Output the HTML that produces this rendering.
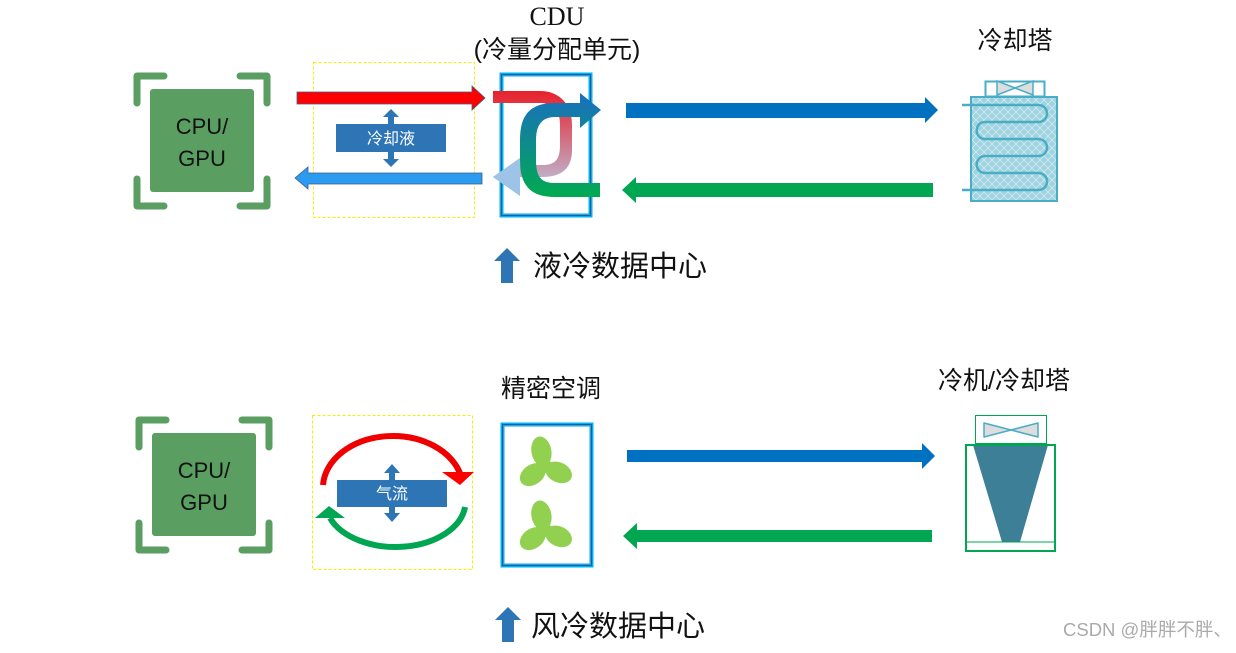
<!DOCTYPE html>
<html><head><meta charset="utf-8"><style>
body{margin:0;background:#fff;width:1236px;height:648px;overflow:hidden}
svg text{font-family:"Liberation Sans","Noto Sans CJK SC",sans-serif}
</style></head><body>
<svg width="1236" height="648" viewBox="0 0 1236 648" xmlns="http://www.w3.org/2000/svg">
<defs>
<pattern id="hatch" width="8" height="8" patternUnits="userSpaceOnUse">
<rect width="8" height="8" fill="#9fd3df"/><path d="M0 0L8 8M8 0L0 8" stroke="#d8eef3" stroke-width="0.7"/></pattern>
<linearGradient id="rg" x1="0" y1="0" x2="0" y2="1"><stop offset="0" stop-color="#e8202a"/><stop offset="1" stop-color="#b8cce8"/></linearGradient>
<linearGradient id="bg" x1="0" y1="0" x2="0" y2="1"><stop offset="0" stop-color="#1a6fc0"/><stop offset="1" stop-color="#00aa50"/></linearGradient>
<g id="cpu">
<rect x="16" y="16" width="104" height="103" rx="3" fill="#5a9e62"/>
<path d="M3 30V3H30M106 3H133V30M3 106V133H30M106 133H133V106" fill="none" stroke="#5a9e62" stroke-width="7" stroke-linecap="round" stroke-linejoin="round"/>
<text x="68" y="61" font-size="22" text-anchor="middle" fill="#111">CPU/</text>
<text x="68" y="93" font-size="22" text-anchor="middle" fill="#111">GPU</text>
</g>
<g id="fan" fill="#92d050">
<ellipse cx="-1" cy="-15" rx="10" ry="15" transform="rotate(-10)"/>
<ellipse cx="0" cy="-15" rx="10" ry="14" transform="rotate(115)"/>
<ellipse cx="0" cy="-15" rx="10" ry="14" transform="rotate(235)"/>
<circle r="7"/>
</g>
</defs>
<!-- top -->
<use href="#cpu" x="134" y="73"/>
<rect x="313.5" y="62.5" width="161" height="155" fill="none" stroke="#f3f000" stroke-dasharray="3,2"/>
<path d="M297 92H472V86L485 98L472 110V104H297Z" fill="#ff0000" stroke="#3a5f8a" stroke-width="0.8"/>
<path d="M482 173H308V167L295 178L308 189V184H482Z" fill="#2a9bf0" stroke="#3a5f8a" stroke-width="0.8"/>
<rect x="336" y="124" width="110" height="28" fill="#2e75b6"/>
<text x="391" y="144" font-size="16" text-anchor="middle" fill="#fff">冷却液</text>
<path d="M391 109L399 117H394V124H388V117H383ZM391 167L399 159H394V152H388V159H383Z" fill="#2e75b6"/>
<rect x="501.5" y="74.5" width="89" height="141" fill="#fff" stroke="#00b0f0" stroke-width="4"/>
<rect x="501.5" y="74.5" width="89" height="141" fill="none" stroke="#2f5597" stroke-width="1"/>
<path d="M493 91H540C560 91 572 105 572 125V150C572 168 562 177 542 177H520V196L493 177L520 158V165H542C555 165 560 160 560 145V125C560 108 552 103 540 103H493Z" fill="url(#rg)"/>
<path d="M520 158V196L493 177Z" fill="#9dc3e6"/>
<path d="M580 103V93L601 110L580 128V117H555C542 117 536 125 536 140V160C536 178 542 183 555 183H600V197H555C530 197 520 185 520 160V140C520 115 530 103 555 103Z" fill="url(#bg)"/>
<path d="M626 103H925V97L938 110L925 123V118H626Z" fill="#0070c0"/>
<path d="M933 183H636V177L622 190L636 203V197H933Z" fill="#00a651"/>
<text x="557" y="25" font-size="26" text-anchor="middle" fill="#111" style="font-family:'Liberation Serif',serif">CDU</text>
<text x="557" y="58" font-size="25" text-anchor="middle" fill="#111">(冷量分配单元)</text>
<text x="1015" y="49" font-size="25" text-anchor="middle" fill="#111">冷却塔</text>
<rect x="985.5" y="81.5" width="59" height="15" fill="#fff" stroke="#4aadc6" stroke-width="2"/>
<path d="M997 84L1015 91L1033 84V98L1015 91L997 98Z" fill="#ddd" stroke="#4aadc6" stroke-width="1.5" transform="translate(0,-3)"/>
<rect x="971" y="97" width="86" height="104" fill="url(#hatch)" stroke="#4aadc6" stroke-width="2"/>
<path d="M962 105H1038C1050 105 1050 122 1038 122H985C974 122 974 139 985 139H1038C1050 139 1050 156 1038 156H985C974 156 974 173 985 173H1038C1050 173 1050 190 1038 190H962" fill="none" stroke="#4aadc6" stroke-width="2.5"/>
<path d="M507 248L520 261H513V283H501V261H494Z" fill="#2e75b6"/>
<text x="533" y="276" font-size="29" fill="#111">液冷数据中心</text>
<!-- bottom -->
<use href="#cpu" x="136" y="417"/>
<rect x="312.5" y="415.5" width="160" height="154" fill="none" stroke="#f3f000" stroke-dasharray="3,2"/>
<path d="M323 485A70 52 0 0 1 461 476" fill="none" stroke="#e00" stroke-width="6"/>
<path d="M442 472L474 472L460 485Z" fill="#f00"/>
<path d="M465 507A70 45 0 0 1 330 518" fill="none" stroke="#00a651" stroke-width="6"/>
<path d="M315 518L329 506L345 518Z" fill="#00a651"/>
<rect x="337" y="480" width="110" height="27" fill="#2e75b6"/>
<text x="392" y="499" font-size="16" text-anchor="middle" fill="#fff">气流</text>
<path d="M392 464L400 473H395V480H389V473H384ZM392 522L400 513H395V507H389V513H384Z" fill="#2e75b6"/>
<rect x="502.5" y="424.5" width="89" height="141" fill="#fff" stroke="#00b0f0" stroke-width="4"/>
<rect x="502.5" y="424.5" width="89" height="141" fill="none" stroke="#2f5597" stroke-width="1"/>
<g transform="translate(545,466)"><use href="#fan"/></g>
<g transform="translate(545,530)"><use href="#fan"/></g>
<path d="M627 450H922V443L935 456L922 469V462H627Z" fill="#0070c0"/>
<path d="M932 530H637V523L623 536L637 549V542H932Z" fill="#00a651"/>
<text x="551" y="397" font-size="25" text-anchor="middle" fill="#111">精密空调</text>
<text x="1004" y="389" font-size="25" text-anchor="middle" fill="#111">冷机/冷却塔</text>
<rect x="975.5" y="415.5" width="71" height="28" fill="#fff" stroke="#00a651" stroke-width="1"/>
<path d="M984 423L1011 430L1038 423V437L1011 430L984 437Z" fill="#ddd" stroke="#4aadc6" stroke-width="1.5" stroke-linejoin="round"/>
<path d="M973 445H1048L1020 542H1002Z" fill="#3c7f96"/>
<rect x="966" y="445" width="89" height="106" fill="none" stroke="#00a651" stroke-width="2"/>
<path d="M966 542H1055" stroke="#00a651" stroke-width="1"/>
<path d="M508 607L521 620H514V642H502V620H495Z" fill="#2e75b6"/>
<text x="531" y="636" font-size="29" fill="#111">风冷数据中心</text>
<text x="1063" y="636" font-size="18.5" fill="#aaa">CSDN @胖胖不胖、</text>
</svg>
</body></html>
